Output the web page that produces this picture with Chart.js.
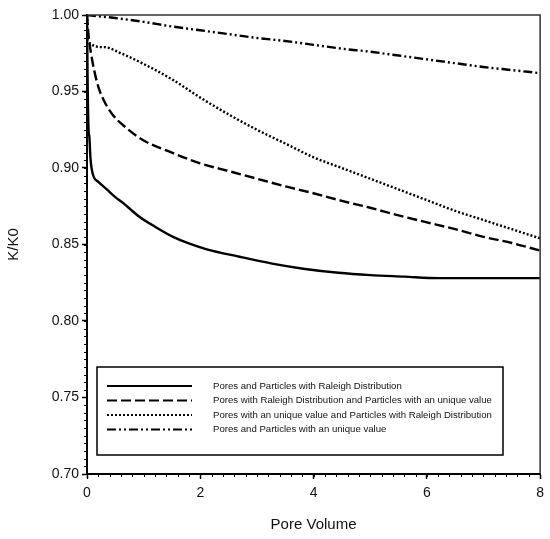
<!DOCTYPE html>
<html>
<head>
<meta charset="utf-8">
<script src="https://cdn.jsdelivr.net/npm/chart.js@4.4.0/dist/chart.umd.min.js"></script>
<style>
  html, body { margin: 0; padding: 0; background: #fff; }
  #wrap { width: 550px; height: 539px; }
</style>
</head>
<body>
<div id="wrap"><canvas id="kk0_chart" width="550" height="539"></canvas></div>
<script>
// series 1: pores and particles with Raleigh distribution
var ray_x = [0, 0.01, 0.03, 0.04, 0.06, 0.08, 0.12, 0.2, 0.35, 0.5, 0.64, 0.93, 1.23, 1.52, 1.81, 2.1, 2.69, 3.27, 3.85, 4.44, 5.0, 5.6, 6.2, 7.0, 8.0];
var ray_y = [1.0, 0.96, 0.923, 0.921, 0.907, 0.900, 0.894, 0.891, 0.886, 0.881, 0.877, 0.868, 0.861, 0.855, 0.8505, 0.847, 0.842, 0.8375, 0.834, 0.8315, 0.830, 0.829, 0.828, 0.828, 0.828];

// series 2: Raleigh pores, unique particles
var rpu_x = [0, 0.02, 0.05, 0.08, 0.12, 0.2, 0.3, 0.45, 0.7, 1.0, 1.5, 2, 2.5, 3, 3.5, 4, 4.5, 5, 5.5, 6, 6.5, 7, 7.5, 8];
var rpu_y = [1.0, 0.99, 0.98, 0.973, 0.965, 0.953, 0.944, 0.935, 0.926, 0.918, 0.910, 0.903, 0.898, 0.893, 0.888, 0.8835, 0.8785, 0.874, 0.869, 0.8645, 0.860, 0.855, 0.851, 0.846];

// series 3: unique pores, Raleigh particles
var upr_x = [0, 0.01, 0.3, 0.6, 1.0, 1.5, 2, 2.5, 3, 3.5, 4, 4.5, 5, 5.5, 6, 6.5, 7, 7.5, 8];
var upr_y = [1.0, 0.983, 0.979, 0.975, 0.968, 0.958, 0.946, 0.935, 0.925, 0.916, 0.907, 0.900, 0.893, 0.886, 0.879, 0.872, 0.866, 0.860, 0.854];

// series 4: pores and particles with an unique value
var uni_x = [0, 0.5, 1, 1.5, 2, 2.5, 3, 3.5, 4, 4.5, 5, 5.5, 6, 6.5, 7, 7.5, 8];
var uni_y = [1.0, 0.998, 0.9955, 0.9925, 0.990, 0.9875, 0.985, 0.983, 0.9805, 0.978, 0.976, 0.9735, 0.971, 0.9685, 0.966, 0.964, 0.962];

var labels = [
  "Pores and Particles with Raleigh Distribution",
  "Pores with Raleigh Distribution and Particles with an unique value",
  "Pores with an unique value and Particles with Raleigh Distribution",
  "Pores and Particles with an unique value"
];
var dashes = [[], [10, 4], [2, 2], [9, 3, 2, 3, 2, 3]];

var x_ticks = [0, 2, 4, 6, 8];
var y_ticks = [0.70, 0.75, 0.80, 0.85, 0.90, 0.95, 1.00];

function pts(xs, ys) {
  var out = [];
  for (var i = 0; i < xs.length; i++) out.push({x: xs[i], y: ys[i]});
  return out;
}

var series = [pts(ray_x, ray_y), pts(rpu_x, rpu_y), pts(upr_x, upr_y), pts(uni_x, uni_y)];
var datasets = series.map(function(d, i) {
  return {
    label: labels[i],
    data: d,
    borderColor: "#000",
    borderWidth: 2.4,
    borderDash: dashes[i],
    borderCapStyle: "butt",
    pointRadius: 0,
    fill: false,
    cubicInterpolationMode: "monotone"
  };
});

var font = "Arial, 'Liberation Sans', sans-serif";

// top/right frame, minor ticks and the boxed legend inside the plot
var extras = {
  id: "extras",
  afterDraw: function(chart) {
    var ctx = chart.ctx, a = chart.chartArea;
    var xs = chart.scales.x, ys = chart.scales.y;
    ctx.save();
    ctx.strokeStyle = "#333";
    ctx.lineWidth = 1.5;
    ctx.beginPath();
    ctx.moveTo(a.left, a.top);
    ctx.lineTo(a.right, a.top);
    ctx.lineTo(a.right, a.bottom);
    ctx.stroke();

    ctx.strokeStyle = "#000";
    ctx.lineWidth = 1;
    ctx.beginPath();
    for (var i = 0; i <= 40; i++) {
      var px = Math.round(xs.getPixelForValue(i * 0.2)) + 0.5;
      ctx.moveTo(px, a.bottom);
      ctx.lineTo(px, a.bottom + 3);
    }
    for (var j = 0; j <= 60; j++) {
      var py = Math.round(ys.getPixelForValue(0.70 + j * 0.005)) + 0.5;
      ctx.moveTo(a.left - 3, py);
      ctx.lineTo(a.left, py);
    }
    ctx.stroke();

    // legend
    var bx = 97, by = 367, bw = 406, bh = 88;
    ctx.fillStyle = "#fff";
    ctx.fillRect(bx, by, bw, bh);
    ctx.strokeStyle = "#000";
    ctx.lineWidth = 1.5;
    ctx.strokeRect(bx, by, bw, bh);
    ctx.font = "9.6px " + font;
    ctx.textBaseline = "middle";
    ctx.fillStyle = "#111";
    chart.data.datasets.forEach(function(ds, k) {
      var ry = 386 + k * 14.5;
      ctx.setLineDash(ds.borderDash);
      ctx.lineWidth = 2;
      ctx.beginPath();
      ctx.moveTo(107, ry);
      ctx.lineTo(192, ry);
      ctx.stroke();
      ctx.setLineDash([]);
      ctx.fillText(ds.label, 213, ry);
    });
    ctx.restore();
  }
};

new Chart("kk0_chart", {
  type: "line",
  data: { datasets: datasets },
  plugins: [extras],
  options: {
    responsive: false,
    animation: false,
    layout: { padding: { left: 0, top: 15, right: 7, bottom: 0 } },
    plugins: { legend: { display: false }, tooltip: { enabled: false } },
    scales: {
      x: {
        type: "linear",
        min: 0, max: 8,
        afterFit: function(s) { s.height = 65; },
        afterBuildTicks: function(s) { s.ticks = x_ticks.map(function(v) { return {value: v}; }); },
        ticks: { color: "#111", padding: 6, font: { family: font, size: 14 }, callback: function(v) { return String(v); } },
        grid: { drawOnChartArea: false, tickLength: 5, tickColor: "#000", tickWidth: 1.5 },
        border: { color: "#000", width: 2 },
        title: { display: true, text: "Pore Volume", color: "#111", font: { family: font, size: 15 }, padding: { top: 0, bottom: 5 } }
      },
      y: {
        type: "linear",
        min: 0.70, max: 1.00,
        afterFit: function(s) { s.width = 87; },
        afterBuildTicks: function(s) { s.ticks = y_ticks.map(function(v) { return {value: v}; }); },
        ticks: { color: "#111", padding: 3, font: { family: font, size: 14 }, callback: function(v) { return v.toFixed(2); } },
        grid: { drawOnChartArea: false, tickLength: 5, tickColor: "#000", tickWidth: 1.5 },
        border: { color: "#000", width: 2 },
        title: { display: true, text: "K/K0", color: "#111", font: { family: font, size: 15 }, padding: { top: 5, bottom: 0 } }
      }
    }
  }
});
</script>
</body>
</html>
